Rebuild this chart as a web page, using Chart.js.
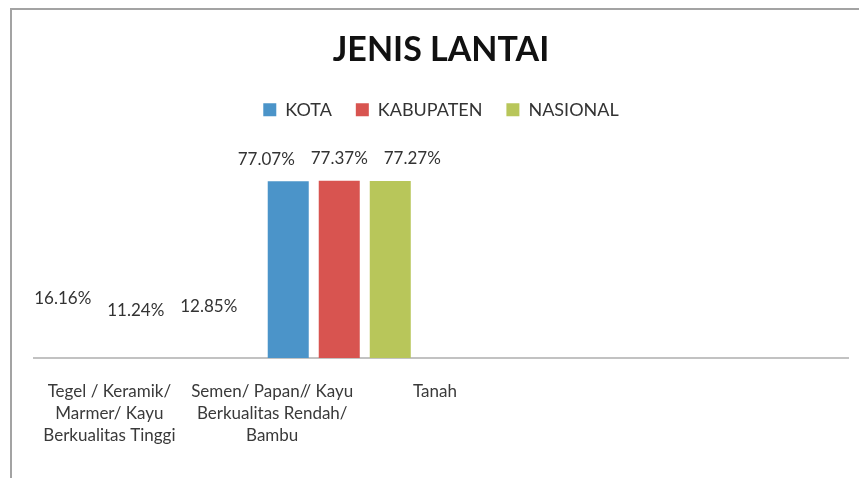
<!DOCTYPE html>
<html lang="id">

<head>
    <meta charset="UTF-8">
    <title>Jenis Lantai</title>
    <style>
        html, body {
            margin: 0;
            padding: 0;
            background: #fff;
        }

        .frame {
            position: absolute;
            left: 10px;
            top: 8px;
            width: 849px;
            height: 470px;
            border-top: 2px solid #a3a3a3;
            border-left: 2px solid #a3a3a3;
            box-sizing: border-box;
        }

        .wrap {
            position: absolute;
            left: 0;
            top: 0;
            width: 859px;
            height: 478px;
        }
    </style>
    <script src="https://cdn.jsdelivr.net/npm/chart.js"></script>
</head>

<body>
    <div class="frame"></div>
    <div class="wrap">
        <canvas id="chart" width="859" height="478"></canvas>
    </div>

    <script>
        // data
        var categories = ['Tegel / Keramik/ Marmer/ Kayu Berkualitas Tinggi', 'Semen/ Papan// Kayu Berkualitas Rendah/ Bambu', 'Tanah'];
        var tickLabels = [
            ['Tegel / Keramik/', 'Marmer/ Kayu', 'Berkualitas Tinggi'],
            ['Semen/ Papan// Kayu', 'Berkualitas Rendah/', 'Bambu'],
            'Tanah'
        ];
        var kota = [16.16, 77.07, null];
        var kabupaten = [11.24, 77.37, null];
        var nasional = [12.85, 77.27, null];

        var colors = ['#4B94C9', '#D85450', '#B8C65A'];

        // the first group has no visible bars in the picture, only its labels
        function barColor(color) {
            return function (ctx) {
                if (ctx.type === 'data' && ctx.dataIndex === 0) return 'rgba(0,0,0,0)';
                return color;
            };
        }

        var valueLabels = {
            id: 'valueLabels',
            afterDatasetsDraw: function (chart) {
                var ctx = chart.ctx;
                ctx.save();
                ctx.font = '17px Lato';
                ctx.fillStyle = '#333';
                ctx.textAlign = 'center';
                ctx.textBaseline = 'middle';
                chart.data.datasets.forEach(function (ds, di) {
                    var meta = chart.getDatasetMeta(di);
                    meta.data.forEach(function (bar, i) {
                        var v = ds.data[i];
                        if (v === null || v === undefined) return;
                        ctx.fillText(v.toFixed(2) + '%', bar.x + (di - 1) * 22, bar.y - 22);
                    });
                });
                ctx.restore();
            }
        };

        new Chart(document.getElementById('chart'), {
            type: 'bar',
            data: {
                labels: categories.concat(['']),
                datasets: [
                    { label: 'KOTA', data: kota, backgroundColor: barColor(colors[0]) },
                    { label: 'KABUPATEN', data: kabupaten, backgroundColor: barColor(colors[1]) },
                    { label: 'NASIONAL', data: nasional, backgroundColor: barColor(colors[2]) }
                ]
            },
            options: {
                responsive: false,
                animation: false,
                categoryPercentage: 0.752,
                barPercentage: 0.804,
                layout: {
                    padding: { left: 34, right: 11, top: 0, bottom: 0 }
                },
                plugins: {
                    title: {
                        display: true,
                        text: 'JENIS LANTAI',
                        color: '#111',
                        font: { family: 'Lato', size: 34, weight: 'bold' },
                        padding: { top: 30, bottom: 6 }
                    },
                    legend: {
                        labels: {
                            boxWidth: 13,
                            boxHeight: 13,
                            padding: 24,
                            color: '#333',
                            font: { family: 'Lato', size: 18 },
                            generateLabels: function (chart) {
                                var items = Chart.defaults.plugins.legend.labels.generateLabels(chart);
                                items.forEach(function (it, i) {
                                    it.fillStyle = colors[i];
                                    it.strokeStyle = colors[i];
                                    it.lineWidth = 0;
                                });
                                return items;
                            }
                        }
                    },
                    tooltip: { enabled: false }
                },
                scales: {
                    x: {
                        type: 'category',
                        grid: { display: false },
                        border: { display: true, color: '#c2c2c2', width: 2 },
                        ticks: { display: false },
                        afterFit: function (s) { s.height = 0; }
                    },
                    xl: {
                        type: 'category',
                        position: 'bottom',
                        labels: tickLabels.concat(['', '']),
                        grid: { display: false, drawTicks: false },
                        border: { display: false },
                        ticks: {
                            autoSkip: false,
                            maxRotation: 0,
                            padding: 22,
                            labelOffset: -6,
                            color: '#3a3a3a',
                            font: { family: 'Lato', size: 17, lineHeight: 1.3 }
                        },
                        afterFit: function (s) { s.height = 120; }
                    },
                    y: {
                        display: false,
                        min: 0,
                        max: 100
                    }
                }
            },
            plugins: [valueLabels]
        });
    </script>
</body>

</html>
